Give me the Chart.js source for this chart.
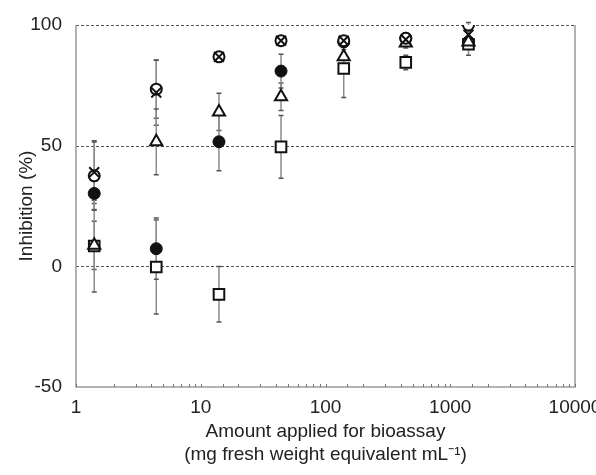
<!DOCTYPE html>
<html lang="en">
<head>
<meta charset="UTF-8" />
<title>Inhibition vs amount applied for bioassay</title>
<script src="https://cdn.jsdelivr.net/npm/chart.js"></script>
<style>
  html, body { margin: 0; padding: 0; background: #fff; }
  #wrap { width: 596px; height: 475px; position: relative; }
</style>
</head>
<body>
<div id="wrap"><canvas id="chart"></canvas></div>
<script>
  // doses (mg fresh weight equivalent / mL)
  const doses = [1.4, 4.4, 14, 44, 140, 440, 1400];

  // inhibition (%) and error for each fraction
  const filledCircle    = [30.2, 7.3, 51.6, 80.9, 93.0, 94.5, 93.0];
  const filledCircleErr = [7, 12.7, 12, 7, 2, 2, 2];
  const openCircle      = [37.5, 73.4, 86.8, 93.5, 93.5, 94.5, 100];
  const openCircleErr   = [14, 12, 2, 1, 1.5, 1.5, 1];
  const cross           = [39, 72, 86.8, 93.5, 93.5, 94, 96];
  const crossErr        = [13, 13.5, 2, 1, 1.5, 1.5, 1.5];
  const triangle        = [8.7, 51.6, 64, 70.3, 86.8, 92.5, 93];
  const triangleErr     = [10, 13.6, 7.7, 5.7, 3, 2, 2];
  const square          = [8.4, -0.3, -11.6, 49.5, 82, 84.5, 92];
  const squareErr       = [19, 19.5, 11.5, 13, 12, 3, 4.5];

  const yTicks = [-50, 0, 50, 100];
  const dashedLevels = [0, 50, 100];
  const xTickLabels = [1, 10, 100, 1000, 10000];

  const FONT = '"Liberation Sans", Arial, Helvetica, sans-serif';
  const INK = '#111';

  function points(vals) {
    return doses.map((x, i) => ({ x: x, y: vals[i] }));
  }

  // frame, dashed reference lines, inward minor ticks and error bars
  const decorations = {
    id: 'decorations',
    beforeDatasetsDraw(chart) {
      const { ctx, chartArea: a, scales: { x, y } } = chart;
      ctx.save();

      ctx.strokeStyle = '#555';
      ctx.lineWidth = 1;
      ctx.setLineDash([3, 2]);
      dashedLevels.forEach(v => {
        const py = Math.round(y.getPixelForValue(v)) + 0.5;
        ctx.beginPath();
        ctx.moveTo(a.left, py);
        ctx.lineTo(a.right, py);
        ctx.stroke();
      });
      ctx.setLineDash([]);

      ctx.strokeStyle = '#9a9a9a';
      ctx.lineWidth = 1.5;
      ctx.beginPath();
      ctx.moveTo(a.left, a.top);
      ctx.lineTo(a.left, a.bottom);
      ctx.lineTo(a.right, a.bottom);
      ctx.lineTo(a.right, a.top);
      ctx.stroke();

      ctx.strokeStyle = '#777';
      ctx.lineWidth = 1;
      x.ticks.forEach(t => {
        const px = Math.round(x.getPixelForValue(t.value)) + 0.5;
        ctx.beginPath();
        ctx.moveTo(px, a.bottom);
        ctx.lineTo(px, a.bottom - 3);
        ctx.stroke();
      });

      chart.data.datasets.forEach(ds => {
        ds.data.forEach((p, i) => {
          const e = ds.errors[i];
          const px = x.getPixelForValue(p.x);
          const top = y.getPixelForValue(p.y + e);
          const bot = y.getPixelForValue(p.y - e);
          ctx.strokeStyle = '#8c8c8c';
          ctx.lineWidth = 1.5;
          ctx.beginPath();
          ctx.moveTo(px, top);
          ctx.lineTo(px, bot);
          ctx.stroke();
          ctx.strokeStyle = '#555';
          ctx.beginPath();
          ctx.moveTo(px - 2.5, top);
          ctx.lineTo(px + 2.5, top);
          ctx.moveTo(px - 2.5, bot);
          ctx.lineTo(px + 2.5, bot);
          ctx.stroke();
        });
      });

      ctx.restore();
    }
  };

  const ctx = document.getElementById('chart').getContext('2d');
  new Chart(ctx, {
    type: 'scatter',
    data: {
      datasets: [
        { label: 'cross', data: points(cross), errors: crossErr, order: 0,
          pointStyle: 'crossRot', pointRadius: 7, borderColor: INK, borderWidth: 2, backgroundColor: INK },
        { label: 'open circle', data: points(openCircle), errors: openCircleErr, order: 1,
          pointStyle: 'circle', pointRadius: 5.5, borderColor: INK, borderWidth: 2, backgroundColor: '#fff' },
        { label: 'triangle', data: points(triangle), errors: triangleErr, order: 2,
          pointStyle: 'triangle', pointRadius: 7, borderColor: INK, borderWidth: 2, backgroundColor: '#fff' },
        { label: 'square', data: points(square), errors: squareErr, order: 3,
          pointStyle: 'rect', pointRadius: 7.5, borderColor: INK, borderWidth: 2, backgroundColor: '#fff' },
        { label: 'filled circle', data: points(filledCircle), errors: filledCircleErr, order: 4,
          pointStyle: 'circle', pointRadius: 6, borderColor: INK, borderWidth: 1, backgroundColor: INK }
      ]
    },
    options: {
      responsive: true,
      maintainAspectRatio: false,
      animation: false,
      events: [],
      layout: { padding: { left: 0, right: 21, top: 25, bottom: 0 } },
      plugins: { legend: { display: false }, tooltip: { enabled: false } },
      scales: {
        x: {
          type: 'logarithmic',
          min: 1,
          max: 10000,
          grid: { display: false },
          border: { display: false },
          ticks: {
            autoSkip: false,
            maxRotation: 0,
            padding: 1,
            color: '#222',
            font: { family: FONT, size: 19 },
            callback: v => {
              const l = Math.log10(v);
              return Math.abs(l - Math.round(l)) < 1e-9 && xTickLabels.includes(Math.round(v)) ? String(Math.round(v)) : '';
            }
          },
          title: {
            display: true,
            text: ['Amount applied for bioassay', '(mg fresh weight equivalent mL\u207B\u00B9)'],
            color: '#222',
            font: { family: FONT, size: 19, lineHeight: 1.25 },
            padding: { top: 0, bottom: 8 }
          },
          afterFit: s => { s.height = 88; s.paddingLeft = 0; s.paddingRight = 0; }
        },
        y: {
          min: -50,
          max: 100,
          grid: { display: false },
          border: { display: false },
          afterBuildTicks: s => { s.ticks = yTicks.map(v => ({ value: v })); },
          ticks: {
            padding: 6,
            color: '#222',
            font: { family: FONT, size: 19 }
          },
          title: {
            display: true,
            text: 'Inhibition (%)',
            color: '#222',
            font: { family: FONT, size: 19, lineHeight: 1.25 },
            padding: { top: 15, bottom: 0 }
          },
          afterFit: s => { s.width = 76; }
        }
      }
    },
    plugins: [decorations]
  });
</script>
</body>
</html>
